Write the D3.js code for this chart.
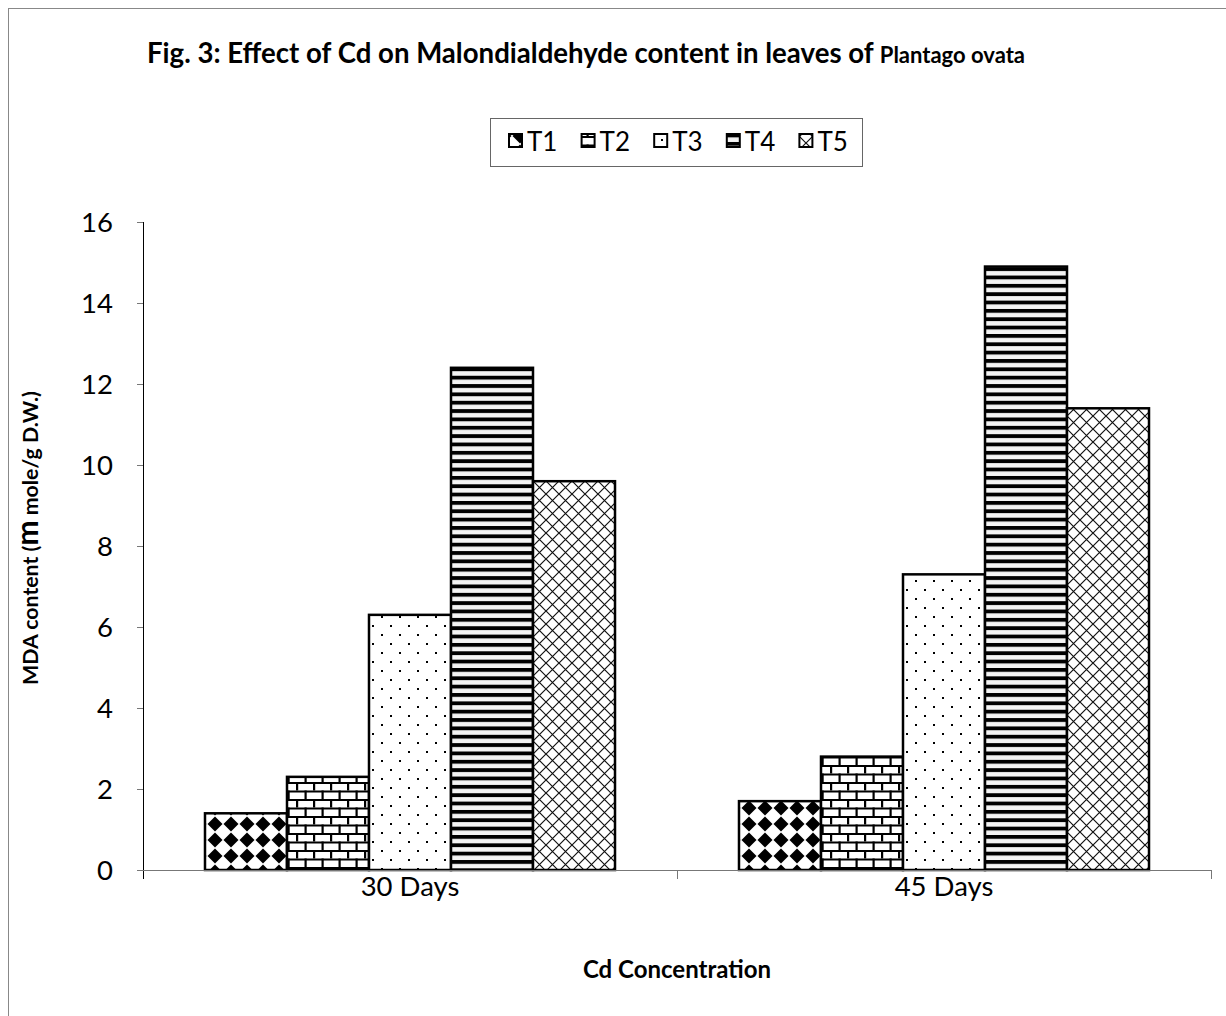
<!DOCTYPE html>
<html><head><meta charset="utf-8">
<script src="https://cdn.jsdelivr.net/npm/d3@7"></script>
<style>body{margin:0;background:#fff}svg{display:block}</style>
</head><body>
<script>
const categories = ["30 Days", "45 Days"];
const seriesNames = ["T1", "T2", "T3", "T4", "T5"];
const T1 = [1.4, 1.7];
const T2 = [2.3, 2.8];
const T3 = [6.3, 7.3];
const T4 = [12.4, 14.9];
const T5 = [9.6, 11.4];
const yTicks = [0, 2, 4, 6, 8, 10, 12, 14, 16];
const seriesValues = [T1, T2, T3, T4, T5];

const W = 1226, H = 1016;
const FONT = "Lato, 'Open Sans', sans-serif";
const svg = d3.select("body").append("svg").attr("width", W).attr("height", H);
const defs = svg.append("defs");

// Patterns
const p1 = defs.append("pattern").attr("id", "pT1").attr("patternUnits", "userSpaceOnUse").attr("width", 16).attr("height", 16);
p1.append("rect").attr("width", 16).attr("height", 16).attr("fill", "#fff");
p1.append("path").attr("d", "M8,0.5 L15.5,8 L8,15.5 L0.5,8 Z").attr("fill", "#000");
const p2 = defs.append("pattern").attr("id", "pT2").attr("patternUnits", "userSpaceOnUse").attr("width", 17).attr("height", 17);
p2.append("rect").attr("width", 17).attr("height", 17).attr("fill", "#fff");
p2.append("rect").attr("x", 0).attr("y", 0).attr("width", 17).attr("height", 2).attr("fill", "#000");
p2.append("rect").attr("x", 0).attr("y", 8.5).attr("width", 17).attr("height", 2).attr("fill", "#000");
p2.append("rect").attr("x", 0).attr("y", 0).attr("width", 2.2).attr("height", 8.5).attr("fill", "#000");
p2.append("rect").attr("x", 8.5).attr("y", 8.5).attr("width", 2.2).attr("height", 8.5).attr("fill", "#000");
const p3 = defs.append("pattern").attr("id", "pT3").attr("patternUnits", "userSpaceOnUse").attr("width", 18).attr("height", 18);
p3.append("rect").attr("width", 18).attr("height", 18).attr("fill", "#fff");
p3.append("rect").attr("x", 4).attr("y", 4).attr("width", 2).attr("height", 2).attr("fill", "#000");
p3.append("rect").attr("x", 13).attr("y", 13).attr("width", 2).attr("height", 2).attr("fill", "#000");
const p4 = defs.append("pattern").attr("id", "pT4").attr("patternUnits", "userSpaceOnUse").attr("width", 10).attr("height", 8.35);
p4.append("rect").attr("width", 10).attr("height", 8.35).attr("fill", "#f4f4f4");
p4.append("rect").attr("y", 0).attr("width", 10).attr("height", 3.8).attr("fill", "#000");
const p5 = defs.append("pattern").attr("id", "pT5").attr("patternUnits", "userSpaceOnUse").attr("width", 13).attr("height", 13);
p5.append("rect").attr("width", 13).attr("height", 13).attr("fill", "#fff");
p5.append("path").attr("d", "M0,0 L13,13 M13,0 L0,13").attr("stroke", "#111").attr("stroke-width", 1.2);

// Frame
svg.append("rect").attr("x", 8.5).attr("y", 8.5).attr("width", 1240).attr("height", 1040)
  .attr("fill", "none").attr("stroke", "#888").attr("stroke-width", 1);

// Scales
const x0 = d3.scaleBand().domain(categories).range([143, 1211]).paddingInner(0).paddingOuter(0);
const x1 = d3.scaleBand().domain(seriesNames).range([0, x0.bandwidth()]).paddingInner(0).paddingOuter(0.756);
const y = d3.scaleLinear().domain([0, 16]).range([870, 222]);

// Title
const title = svg.append("text").attr("x", 147).attr("y", 63).attr("font-family", FONT)
  .attr("font-weight", "bold").attr("font-size", 27.6).attr("fill", "#000");
title.append("tspan").text("Fig. 3: Effect of Cd on Malondialdehyde content in leaves of ");
title.append("tspan").attr("font-size", 22).text("Plantago ovata");

// Legend
const lg = svg.append("g");
lg.append("rect").attr("x", 490.5).attr("y", 118.5).attr("width", 372).attr("height", 48)
  .attr("fill", "#fff").attr("stroke", "#666").attr("stroke-width", 1);
seriesNames.forEach((s, i) => {
  const lx = 509 + i * 72.6;
  lg.append("rect").attr("x", lx).attr("y", 134).attr("width", 13).attr("height", 13)
    .attr("fill", `url(#p${s})`).attr("stroke", "#000").attr("stroke-width", 2);
  lg.append("text").attr("x", lx + 18).attr("y", 151).attr("font-family", FONT)
    .attr("font-size", 26).attr("fill", "#000").text(s);
});

// Y axis
const yAxis = svg.append("g");
yAxis.append("line").attr("x1", 143.5).attr("x2", 143.5).attr("y1", y(16)).attr("y2", 879).attr("stroke", "#000");
yAxis.selectAll(".yt").data(yTicks).enter().append("line")
  .attr("x1", 137).attr("x2", 143).attr("y1", d => Math.round(y(d)) + 0.5).attr("y2", d => Math.round(y(d)) + 0.5)
  .attr("stroke", "#777");
yAxis.selectAll(".yl").data(yTicks).enter().append("text")
  .attr("x", 113).attr("y", d => y(d) + 9.5).attr("text-anchor", "end")
  .attr("font-family", FONT).attr("font-size", 27.5).attr("fill", "#000").text(d => d);

// Bars
const groups = svg.selectAll(".grp").data(categories).enter().append("g")
  .attr("transform", d => `translate(${x0(d)},0)`);
groups.selectAll("rect").data((c, ci) => seriesNames.map((s, si) => ({ s, v: seriesValues[si][ci] })))
  .enter().append("rect")
  .attr("x", d => x1(d.s)).attr("y", d => y(d.v)).attr("width", x1.bandwidth()).attr("height", d => y(0) - y(d.v))
  .attr("fill", d => `url(#p${d.s})`).attr("stroke", "#000").attr("stroke-width", 2.5);

// X axis
const xAxis = svg.append("g");
xAxis.append("line").attr("x1", 137).attr("x2", 1211).attr("y1", 870.5).attr("y2", 870.5).attr("stroke", "#777");
const bounds = [143, 143 + x0.bandwidth(), 143 + 2 * x0.bandwidth()];
xAxis.selectAll(".xt").data(bounds.slice(1)).enter().append("line")
  .attr("x1", d => Math.round(d) + 0.5).attr("x2", d => Math.round(d) + 0.5).attr("y1", 870).attr("y2", 879).attr("stroke", "#777");
xAxis.selectAll(".xl").data(categories).enter().append("text")
  .attr("x", d => x0(d) + x0.bandwidth() / 2).attr("y", 896).attr("text-anchor", "middle")
  .attr("font-family", FONT).attr("font-size", 27.5).attr("fill", "#000").text(d => d);

// Axis titles
svg.append("text").attr("x", 677).attr("y", 978).attr("text-anchor", "middle")
  .attr("font-family", FONT).attr("font-weight", "bold").attr("font-size", 24).attr("fill", "#000")
  .text("Cd Concentration");
const yl = svg.append("text").attr("transform", "translate(38,538) rotate(-90)").attr("text-anchor", "middle")
  .attr("font-family", FONT).attr("font-weight", "bold").attr("font-size", 21.3).attr("fill", "#000");
yl.append("tspan").text("MDA content (");
yl.append("tspan").attr("font-size", 30).text("m");
yl.append("tspan").text(" mole/g D.W.)");
</script>
</body></html>
